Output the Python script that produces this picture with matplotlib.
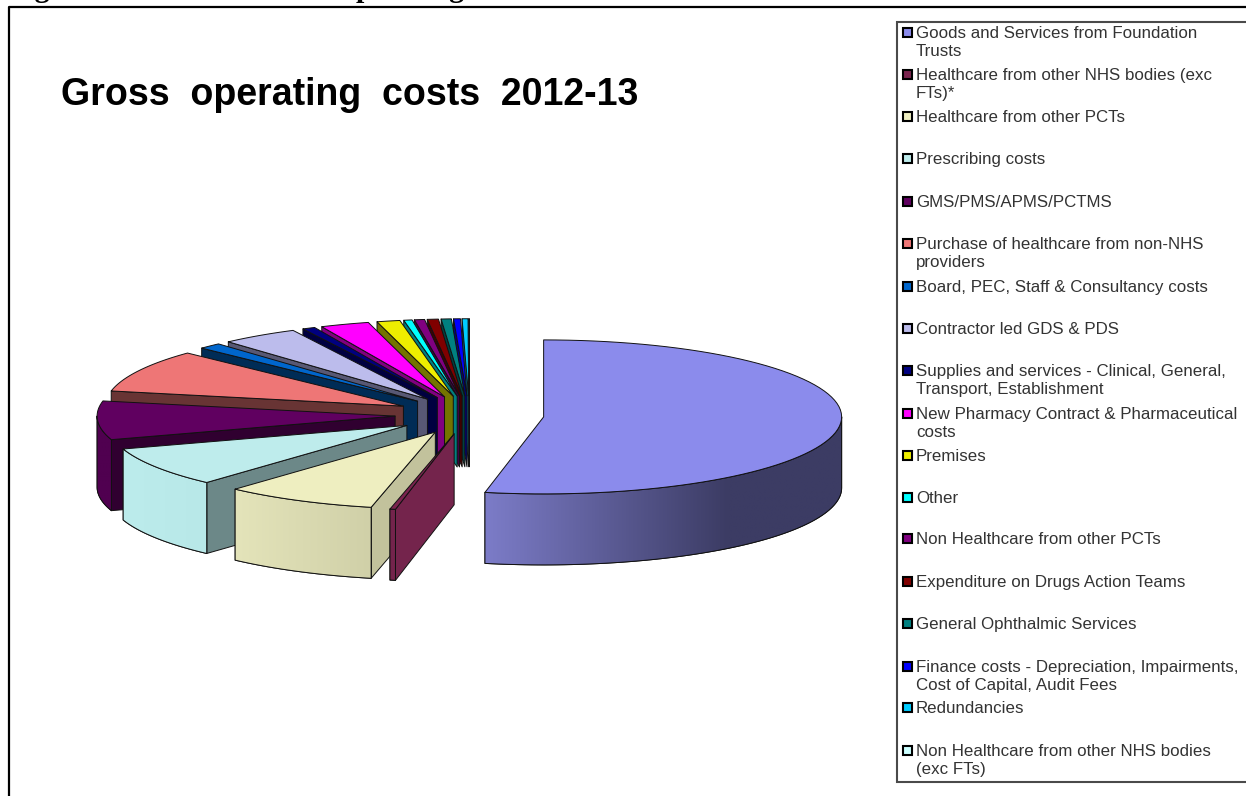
import numpy as np
import matplotlib
matplotlib.use('Agg')
import matplotlib.pyplot as plt
from matplotlib.patches import Polygon, Rectangle

plt.rcParams['font.family'] = ['Liberation Sans', 'DejaVu Sans']

labels = [
    "Goods and Services from Foundation\nTrusts",
    "Healthcare from other NHS bodies (exc\nFTs)*",
    "Healthcare from other PCTs",
    "Prescribing costs",
    "GMS/PMS/APMS/PCTMS",
    "Purchase of healthcare from non-NHS\nproviders",
    "Board, PEC, Staff & Consultancy costs",
    "Contractor led GDS & PDS",
    "Supplies and services - Clinical, General,\nTransport, Establishment",
    "New Pharmacy Contract & Pharmaceutical\ncosts",
    "Premises",
    "Other",
    "Non Healthcare from other PCTs",
    "Expenditure on Drugs Action Teams",
    "General Ophthalmic Services",
    "Finance costs - Depreciation, Impairments,\nCost of Capital, Audit Fees",
    "Redundancies",
    "Non Healthcare from other NHS bodies\n(exc FTs)",
]
shares = [53.17, 0.30, 8.27, 8.33, 8.11, 8.95, 1.25, 4.20, 0.69,
          2.64, 1.25, 0.45, 0.55, 0.60, 0.55, 0.37, 0.32, 0.03]

top_colors = ['#8b8bec', '#7a244e', '#eeeec0', '#beecec', '#600060', '#ee7676',
              '#0066cc', '#bcbcec', '#000080', '#ff00ff', '#eeee00', '#00ffff',
              '#800080', '#800000', '#008080', '#0000ff', '#00ccff', '#ccffff']
side_colors = ['#3c3c64', '#74244c', '#c2c29c', '#6c8888', '#300030', '#683434',
               '#002c56', '#585874', '#000040', '#800080', '#747400', '#008080',
               '#400040', '#400000', '#004040', '#000080', '#006680', '#668080']
wall_from = {0: '#7c7cc8', 2: '#e4e4ba', 3: '#bcecec', 4: '#500050'}
wall_to = {0: '#3c3c64', 2: '#d0d0a8', 3: '#b8e8e8', 4: '#500050'}

# ellipse of the pie on the page
cx, cy = 469.5, 415
rx, ry = 298, 77
depth = 71
explode = 0.25

fig = plt.figure(figsize=(12.46, 7.96), dpi=100)
ax = fig.add_axes([0, 0, 1, 1])


def point(a, off=(0, 0), r=1.0):
    return off[0] + r * rx * np.sin(a), off[1] - r * ry * np.cos(a)


def draw_slice(i, a0, a1, z):
    mid = (a0 + a1) / 2
    apex = point(mid, (cx, cy), explode)
    edge = dict(edgecolor='#111111', linewidth=0.7, joinstyle='round')

    # cut face on the near side
    if np.pi < a0 < 2 * np.pi:
        x0, y0 = point(a0, apex)
        ax.add_patch(Polygon([apex, (x0, y0), (x0, y0 + depth), (apex[0], apex[1] + depth)],
                             facecolor=side_colors[i], zorder=z, **edge))

    # outer wall, only the part turned towards the viewer
    w0, w1 = max(a0, np.pi / 2), min(a1, 3 * np.pi / 2)
    if w1 > w0:
        t = np.linspace(w0, w1, 80)
        xs, ys = point(t, apex)
        pts = np.r_[np.c_[xs, ys], np.c_[xs, ys + depth][::-1]]
        wall = Polygon(pts, facecolor=wall_to.get(i, side_colors[i]), zorder=z + 0.1, **edge)
        ax.add_patch(wall)
        c0 = np.array(matplotlib.colors.to_rgb(wall_from.get(i, side_colors[i])))
        c1 = np.array(matplotlib.colors.to_rgb(wall_to.get(i, side_colors[i])))
        left, right = xs.min(), xs.max()
        # slice 1 reaches its darkest tone part way along the wall
        ramp = np.clip(np.linspace(0, 1, 200) / (0.68 if i == 0 else 1.0), 0, 1)
        grad = (c0[None, :] + (c1 - c0)[None, :] * ramp[:, None])[None, :, :]
        im = ax.imshow(grad, extent=(left, right, ys.max() + depth, ys.min()),
                       aspect='auto', zorder=z + 0.2, interpolation='bilinear')
        im.set_clip_path(wall)
        ax.add_patch(Polygon(pts, fill=False, zorder=z + 0.3, **edge))

    # top face
    t = np.linspace(a0, a1, 80)
    xs, ys = point(t, apex)
    ax.add_patch(Polygon(np.r_[[apex], np.c_[xs, ys]], facecolor=top_colors[i],
                         zorder=z + 0.4, **edge))


ends = np.cumsum(shares) / np.sum(shares) * 2 * np.pi
starts = np.r_[0, ends[:-1]]

# paint from the back slices towards the front
for n, i in enumerate(range(len(shares) - 1, -1, -1)):
    draw_slice(i, starts[i], ends[i], 3 + n)

# page frame around the chart
ax.plot([8.5, 8.5, 1250], [800, 6.5, 6.5], color='black', lw=1.6, zorder=1)

# caption of the page, cut by the top edge
ax.text(8, -3, "Figure 11: Breakdown of Operating Costs", family=['Liberation Serif'],
        weight='bold', fontsize=21.5, va='baseline', ha='left', color='black')

ax.text(61, 95, "Gross  operating  costs  2012-13", fontsize=27, weight='bold',
        va='center', ha='left', color='black', zorder=40)

# legend box
ax.add_patch(Rectangle((896.5, 21.5), 360, 760, facecolor='white', edgecolor='#4a4a4a',
                       lw=1.5, zorder=30))

rows = [32, 74, 116, 158, 201, 243, 286, 328, 370, 413, 455, 497, 538, 581, 623, 666, 707, 750]
for y, lab, col in zip(rows, labels, top_colors):
    ax.add_patch(Rectangle((902.5, y - 4), 9, 9, facecolor=col, edgecolor='black',
                           lw=1.5, zorder=31))
    ax.text(916, y - 6, lab, fontsize=12.2, color='#333333', va='top', ha='left',
            linespacing=1.26, zorder=32)

ax.set_xlim(0, 1246)
ax.set_ylim(796, 0)
ax.axis('off')

fig.savefig('out.png', dpi=100, facecolor='white')
